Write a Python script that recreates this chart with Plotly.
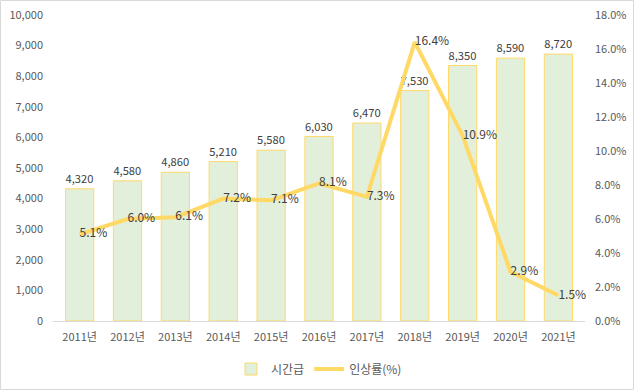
import plotly.graph_objects as go

years = ["2011년", "2012년", "2013년", "2014년", "2015년", "2016년", "2017년", "2018년", "2019년", "2020년", "2021년"]
wage = [4320, 4580, 4860, 5210, 5580, 6030, 6470, 7530, 8350, 8590, 8720]
rate = [5.1, 6.0, 6.1, 7.2, 7.1, 8.1, 7.3, 16.4, 10.9, 2.9, 1.5]

FONT = "Noto Sans CJK KR"
TXT = "#595959"
W, H = 634, 390
ml, mr, mt, mb = 53, 49, 15, 69
pw, ph = W - ml - mr, H - mt - mb

fig = go.Figure()
fig.add_trace(go.Bar(
    x=years, y=wage, name="시간급",
    marker=dict(color="#e2efda", line=dict(color="#ffd966", width=1)),
    text=[f"{v:,}" for v in wage], textposition="outside",
    textfont=dict(color="#404040", size=12, family=FONT),
    cliponaxis=False,
))
fig.add_trace(go.Scatter(
    x=years, y=rate, name="인상률(%)", yaxis="y2", mode="lines+text",
    line=dict(color="#ffd966", width=4),
    text=[f"{v:.1f}%" for v in rate], textposition="middle right",
    textfont=dict(color="#404040", size=12, family=FONT),
    cliponaxis=False,
))

fig.update_layout(
    width=W, height=H,
    margin=dict(l=ml, r=mr, t=mt, b=mb, autoexpand=False),
    paper_bgcolor="white", plot_bgcolor="white",
    font=dict(family=FONT, size=11, color=TXT),
    bargap=0.41,
    showlegend=True,
    legend=dict(orientation="h", x=0.5, xanchor="center", y=-0.157, yanchor="middle",
                font=dict(size=12, color=TXT), bgcolor="rgba(0,0,0,0)"),
    xaxis=dict(showgrid=False, showline=True, linecolor="#d9d9d9", linewidth=1,
               ticks="", tickfont=dict(size=11, color=TXT), ticklabelstandoff=6,
               automargin=False),
    yaxis=dict(range=[0, 10000], dtick=1000, tickformat=",", showgrid=False,
               zeroline=False, showline=False, tickfont=dict(size=11, color=TXT),
               ticklabelstandoff=9, automargin=False),
    yaxis2=dict(range=[0, 18], dtick=2, overlaying="y", side="right",
                ticksuffix="%", tickformat=".1f", showgrid=False, zeroline=False,
                showline=False, tickfont=dict(size=11, color=TXT),
                ticklabelstandoff=9, automargin=False),
)

fig.add_shape(type="rect", xref="paper", yref="paper",
              x0=(0.5 - ml) / pw, x1=(W - 0.5 - ml) / pw,
              y0=-(mb - 0.5) / ph, y1=(ph + mt - 0.5) / ph,
              line=dict(color="#d9d9d9", width=1), layer="below")

fig.write_html("out.html", config={"displayModeBar": False},
               post_script="document.body.style.margin='0';document.body.style.overflow='hidden';")
